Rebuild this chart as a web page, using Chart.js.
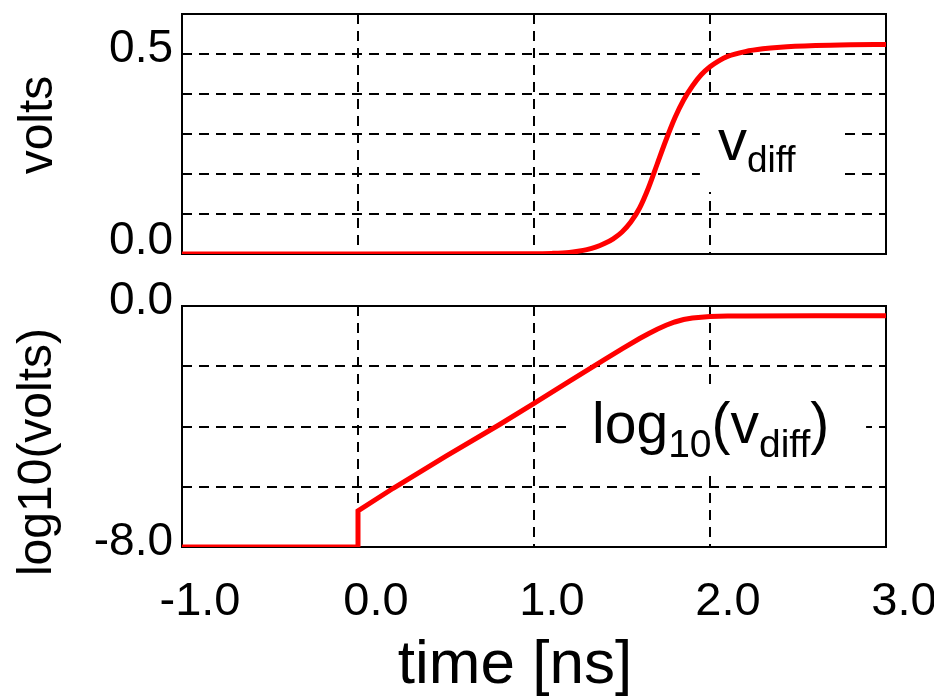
<!DOCTYPE html>
<html>
<head>
<meta charset="utf-8">
<script src="https://cdn.jsdelivr.net/npm/chart.js@4.4.0/dist/chart.umd.min.js"></script>
<style>
  html, body { margin: 0; padding: 0; background: #fff; }
  #wrap { position: relative; width: 934px; height: 700px; overflow: hidden; }
  #top { position: absolute; left: 0; top: 0; }
  #bottom { position: absolute; left: 0; top: 270px; }
</style>
</head>
<body>
<div id="wrap">
  <canvas id="top" width="934" height="270"></canvas>
  <canvas id="bottom" width="934" height="430"></canvas>
</div>
<script>
// time axis [ns] and the two traces
const timeTop = [-1.0, 0.0, 1.0, 1.1, 1.2, 1.25, 1.3, 1.35, 1.4, 1.45, 1.5, 1.55, 1.6, 1.65, 1.7, 1.75, 1.8, 1.85, 1.9, 1.95, 2.0, 2.05, 2.1, 2.2, 2.3, 2.4, 2.6, 2.8, 3.0];
const vdiff = [0, 0, 0.0005, 0.0015, 0.004, 0.007, 0.011, 0.017, 0.026, 0.038, 0.055, 0.08, 0.115, 0.165, 0.225, 0.285, 0.34, 0.385, 0.42, 0.448, 0.468, 0.483, 0.494, 0.506, 0.513, 0.517, 0.521, 0.523, 0.524];

const timeBottom = [-1.0, 0.0, 0.0, 0.2, 0.5, 0.8, 1.0, 1.2, 1.4, 1.5, 1.6, 1.65, 1.7, 1.75, 1.8, 1.85, 1.9, 1.95, 2.0, 2.1, 2.2, 2.6, 3.0];
const logVdiff = [-8, -8, -6.8, -6.05, -4.98, -3.95, -3.23, -2.5, -1.78, -1.42, -1.08, -0.92, -0.77, -0.64, -0.53, -0.45, -0.4, -0.37, -0.35, -0.335, -0.33, -0.32, -0.32];

const timeTicks = [-1, 0, 1, 2, 3];
const timeTickLabels = ["-1.0", "0.0", "1.0", "2.0", "3.0"];
const voltTicks = [0, 0.5];
const voltTickLabels = ["0.0", "0.5"];
const logTicks = [-8, 0];
const logTickLabels = ["-8.0", "0.0"];

const FONT = "'Liberation Sans', Arial, Helvetica, sans-serif";
const RED = "#ff0000";

function labelFor(values, labels, v) {
  const i = values.findIndex((t) => Math.abs(t - v) < 1e-6);
  return i < 0 ? "" : labels[i];
}

// solid box round the plot area + white-backed annotation
const framePlugin = {
  id: "frame",
  beforeDatasetsDraw(chart, args, opts) {
    const { ctx, chartArea: a, scales } = chart;
    ctx.save();
    ctx.strokeStyle = "#000";
    ctx.lineWidth = 2;
    ctx.strokeRect(a.left, a.top, a.width, a.height);
    const n = opts.note;
    if (n) {
      const x0 = scales.x.getPixelForValue(n.x);
      const y0 = scales.y.getPixelForValue(n.y);
      ctx.fillStyle = "#fff";
      ctx.fillRect(x0 + n.box[0], y0 + n.box[1], n.box[2], n.box[3]);
      ctx.fillStyle = "#000";
      ctx.textBaseline = "alphabetic";
      ctx.textAlign = "left";
      let x = x0;
      n.parts.forEach((p) => {
        ctx.font = p.size + "px " + FONT;
        ctx.fillText(p.text, x, y0 + (p.dy || 0));
        x += ctx.measureText(p.text).width;
      });
    }
    ctx.restore();
  },
  afterDraw(chart, args, opts) {
    const { ctx } = chart;
    (opts.titles || []).forEach((t) => {
      ctx.save();
      ctx.fillStyle = "#000";
      ctx.font = t.size + "px " + FONT;
      ctx.textAlign = "center";
      ctx.textBaseline = "alphabetic";
      ctx.translate(t.x, t.y);
      if (t.rotate) ctx.rotate(-Math.PI / 2);
      ctx.fillText(t.text, 0, 0);
      ctx.restore();
    });
  },
};

const gridX = { color: "#000", lineWidth: 2, drawTicks: false };
const dashed = { display: false, dash: [10, 7] };
const yTickFont = { family: FONT, size: 46, lineHeight: 0.35 };

// keep the plot area where the figure has it: no label overhang padding
function fixWidth(s) {
  s.width = 182;
  s.paddingTop = 0;
  s.paddingBottom = 0;
}
function fixHeight(h) {
  return (s) => {
    s.height = h;
    s.paddingLeft = 0;
    s.paddingRight = 0;
  };
}

new Chart(document.getElementById("top"), {
  type: "line",
  data: {
    datasets: [{
      data: timeTop.map((t, i) => ({ x: t, y: vdiff[i] })),
      borderColor: RED,
      borderWidth: 5,
      pointRadius: 0,
      cubicInterpolationMode: "monotone",
      fill: false,
    }],
  },
  options: {
    responsive: false,
    animation: false,
    layout: { padding: { top: 14, right: 48, bottom: 16, left: 0 } },
    plugins: {
      legend: { display: false },
      tooltip: { enabled: false },
      frame: {
        note: {
          x: 2.045, y: 0.235,
          box: [-18, -63, 140, 95],
          parts: [{ text: "v", size: 58 }, { text: "diff", size: 37, dy: 12 }],
        },
        titles: [{ text: "volts", x: 52, y: 125, size: 48, rotate: true }],
      },
    },
    scales: {
      x: {
        type: "linear", min: -1, max: 3,
        ticks: { display: false, stepSize: 1 },
        grid: gridX, border: dashed,
        afterFit: fixHeight(0),
      },
      y: {
        min: 0, max: 0.6,
        ticks: {
          stepSize: 0.1, color: "#000", font: yTickFont, padding: 9, labelOffset: -5,
          callback: (v) => {
            const l = labelFor(voltTicks, voltTickLabels, v);
            return Math.abs(v) < 1e-6 ? [l, ""] : l;
          },
        },
        grid: gridX, border: dashed,
        afterFit: fixWidth,
      },
    },
  },
  plugins: [framePlugin],
});

new Chart(document.getElementById("bottom"), {
  type: "line",
  data: {
    datasets: [{
      data: timeBottom.map((t, i) => ({ x: t, y: logVdiff[i] })),
      borderColor: RED,
      borderWidth: 5,
      pointRadius: 0,
      tension: 0,
      fill: false,
    }],
  },
  options: {
    responsive: false,
    animation: false,
    layout: { padding: { top: 36, right: 48, bottom: 0, left: 0 } },
    plugins: {
      legend: { display: false },
      tooltip: { enabled: false },
      frame: {
        note: {
          x: 1.33, y: -4.55,
          box: [-22, -55, 296, 82],
          parts: [
            { text: "log", size: 57 },
            { text: "10", size: 39, dy: 14 },
            { text: "(v", size: 57 },
            { text: "diff", size: 39, dy: 14 },
            { text: ")", size: 57 },
          ],
        },
        titles: [
          { text: "log10(volts)", x: 51, y: 182, size: 48, rotate: true },
          { text: "time [ns]", x: 515, y: 413, size: 62 },
        ],
      },
    },
    scales: {
      x: {
        type: "linear", min: -1, max: 3,
        ticks: {
          stepSize: 1, color: "#000", padding: 27, labelOffset: 18,
          font: { family: FONT, size: 47 },
          callback: (v) => labelFor(timeTicks, timeTickLabels, v),
        },
        grid: gridX, border: dashed,
        afterFit: fixHeight(153),
      },
      y: {
        min: -8, max: 0,
        ticks: {
          stepSize: 2, color: "#000", font: yTickFont, padding: 9, labelOffset: -5,
          callback: (v) => labelFor(logTicks, logTickLabels, v),
        },
        grid: gridX, border: dashed,
        afterFit: fixWidth,
      },
    },
  },
  plugins: [framePlugin],
});
</script>
</body>
</html>
